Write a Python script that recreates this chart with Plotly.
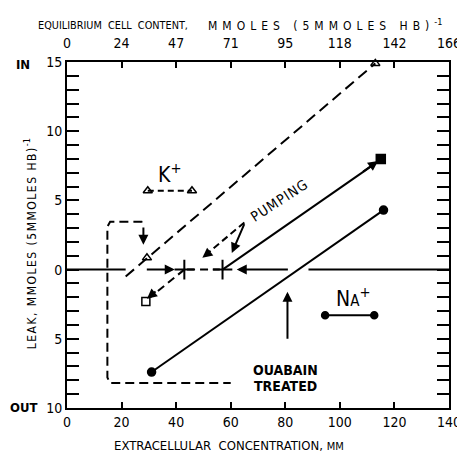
import plotly.graph_objects as go

FONT = "Liberation Sans Narrow, DejaVu Sans Condensed, Arial Narrow, sans-serif"

# ---------------- data ----------------
x_ticks = [0, 20, 40, 60, 80, 100, 120, 140]
x_ticklabels = ["0", "20", "40", "60", "80", "100", "120", "140"]
top_ticklabels = ["0", "24", "47", "71", "95", "118", "142", "166"]
y_ticks = [-10, -5, 0, 5, 10, 15]
y_ticklabels = ["10", "5", "0", "5", "10", "15"]

# K+ ouabain-treated leak line (dashed) and its triangles
k_leak_x = [21.5, 113.0]
k_leak_y = [-0.5, 14.9]
k_tri_x = [29.3, 113.0]
k_tri_y = [0.85, 14.9]

# Na+ ouabain-treated line (solid) with filled circles
na_ouab_x = [31.0, 116.0]
na_ouab_y = [-7.4, 4.3]

# Na+ pumping line (solid) from cross to filled square
na_pump_x = [57.0, 112.5]
na_pump_y = [0.0, 7.6]
na_sq_x = [115.0]
na_sq_y = [8.0]

# K+ pumping (dashed) from cross to open square
k_pump_x = [43.0, 30.5]
k_pump_y = [0.0, -2.0]
k_sq_x = [28.9]
k_sq_y = [-2.3]

# crosses on the zero line
cross_x = [43.0, 57.0]
cross_y = [0.0, 0.0]

# zero line segments
zero_left_x = [0.0, 21.5]
zero_right_x = [88.5, 140.0]
zero_y = [0.0, 0.0]
zero_mid_x = [44.0, 56.0]

# dashed bracket
bracket_x = [28.0, 28.0, 27.3, 15.8, 14.8, 14.8, 15.8, 60.0]
bracket_y = [2.4, 3.1, 3.45, 3.45, 3.1, -7.8, -8.2, -8.2]

# pumping dashed arrow shaft
pump_dash_x = [65.0, 51.0]
pump_dash_y = [3.4, 1.1]

# legends
k_leg_x = [29.6, 45.8]
k_leg_y = [5.7, 5.7]
na_leg_x = [94.6, 112.6]
na_leg_y = [-3.3, -3.3]

# ---------------- figure ----------------
fig = go.Figure()
blk = "black"

def line(x, y, dash="solid", width=2):
    fig.add_trace(go.Scatter(x=x, y=y, mode="lines", line=dict(color=blk, width=width, dash=dash),
                             hoverinfo="skip", showlegend=False, cliponaxis=False))

def marks(x, y, symbol, size, lw=1.5):
    fig.add_trace(go.Scatter(x=x, y=y, mode="markers",
                             marker=dict(symbol=symbol, size=size, color=blk, line=dict(color=blk, width=lw)),
                             hoverinfo="skip", showlegend=False, cliponaxis=False))

line(zero_left_x, zero_y)
line(zero_right_x, zero_y)
line(zero_mid_x, zero_y, dash="8px,5px")
line(k_leak_x, k_leak_y, dash="11px,6px")
line(na_ouab_x, na_ouab_y)
line(na_pump_x, na_pump_y)
line(k_pump_x, k_pump_y, dash="8px,5px")
line(bracket_x, bracket_y, dash="9px,5px")
line(pump_dash_x, pump_dash_y, dash="7px,4px")
line(k_leg_x, k_leg_y, dash="6px,4px")
line(na_leg_x, na_leg_y)

marks(k_tri_x, k_tri_y, "triangle-up-open", 8)
marks(k_leg_x, k_leg_y, "triangle-up-open", 8)
marks(na_ouab_x, na_ouab_y, "circle", 8)
marks(na_leg_x, na_leg_y, "circle", 7)
marks(na_sq_x, na_sq_y, "square", 9)
marks(k_sq_x, k_sq_y, "square-open", 8)
marks(cross_x, cross_y, "cross-thin-open", 14, lw=2)

# invisible trace for top axis
fig.add_trace(go.Scatter(x=[0, 140], y=[0, 0], xaxis="x2", mode="markers",
                         marker=dict(opacity=0), hoverinfo="skip", showlegend=False))

# arrows
def arrow(x, y, ax, ay, head=2, size=1.0):
    fig.add_annotation(x=x, y=y, ax=ax, ay=ay, xref="x", yref="y", axref="x", ayref="y",
                       showarrow=True, arrowhead=head, arrowsize=size, arrowwidth=2,
                       arrowcolor=blk, text="")

arrow(39.5, 0.0, 28.7, 0.0)          # right pointing on zero line
arrow(62.2, 0.0, 81.5, 0.0)          # left pointing on zero line
arrow(80.8, -1.6, 80.8, -5.1)        # ouabain arrow
arrow(114.0, 7.85, 108.0, 7.0)       # Na pump head
arrow(28.0, 1.8, 28.0, 2.6)          # bracket head
arrow(29.3, -2.1, 33.0, -1.5)        # K pump head
arrow(49.6, 0.85, 52.5, 1.3)         # pumping dashed head
arrow(60.4, 1.2, 65.2, 3.4)          # pumping solid arrow

# texts
def text(x, y, s, size, angle=0, xref="x", yref="y", xanchor="center", yanchor="middle"):
    fig.add_annotation(x=x, y=y, xref=xref, yref=yref, text=s, showarrow=False,
                       textangle=angle, xanchor=xanchor, yanchor=yanchor,
                       font=dict(family=FONT, size=size, color=blk))

SP = "<span style='font-size:12px;letter-spacing:5px'>"
SP2 = "<span style='font-size:12px;letter-spacing:1.5px'>"

text(78.0, 5.0, "<span style='letter-spacing:1px'>PUMPING</span>", 14, angle=-33)
text(80.0, -7.25, "<b>OUABAIN</b>", 14)
text(80.0, -8.4, "<b>TREATED</b>", 14)
text(37.7, 7.0, "K<sup>+</sup>", 21)
text(104.8, -2.0, "N<span style='font-size:15px'>A</span><sup>+</sup>", 21)

# top title in two parts
text((113.5 - 67) / 385, (408 - 26) / 346, "EQUILIBRIUM  CELL  CONTENT,", 10.8,
     xref="paper", yref="paper")
text((327 - 67) / 385, (408 - 25) / 346,
     SP + "MMOLES (5MMOLES HB)</span><sup>-1</sup>", 13, xref="paper", yref="paper")
text((230 - 67) / 385, (408 - 445) / 346,
     "EXTRACELLULAR  CONCENTRATION, <span style='font-size:11px'>MM</span>", 13,
     xref="paper", yref="paper")
text((30 - 67) / 385, (408 - 244) / 346,
     SP2 + "LEAK, MMOLES (5MMOLES HB)</span><sup>-1</sup>",
     13, angle=-90, xref="paper", yref="paper")
text((23 - 67) / 385, (408 - 64) / 346, "<b>IN</b>", 13, xref="paper", yref="paper")
text((23 - 67) / 385, (408 - 407) / 346, "<b>OUT</b>", 13, xref="paper", yref="paper")

# page body has an 8px margin: shift the figure margins to compensate
fig.update_layout(
    width=465, height=455,
    margin=dict(l=59, r=21, t=54, b=55),
    plot_bgcolor="white", paper_bgcolor="white",
    font=dict(family=FONT, size=14, color=blk),
    xaxis=dict(range=[0, 140], tickvals=x_ticks, ticktext=x_ticklabels,
               ticks="inside", ticklen=6, tickwidth=2, tickcolor=blk,
               showline=True, linewidth=2, linecolor=blk, mirror="allticks",
               showgrid=False, zeroline=False, tickfont=dict(size=14)),
    xaxis2=dict(range=[0, 140], overlaying="x", side="top", tickvals=x_ticks,
                ticktext=top_ticklabels, ticks="", showline=False, showgrid=False,
                zeroline=False, tickfont=dict(size=14), ticklabelstandoff=10),
    yaxis=dict(range=[-10, 15], tickvals=y_ticks, ticktext=y_ticklabels,
               ticks="inside", ticklen=12, tickwidth=2, tickcolor=blk,
               minor=dict(tickvals=list(range(-10, 16)), ticks="inside", ticklen=7,
                          tickwidth=1.5, tickcolor=blk),
               showline=True, linewidth=2, linecolor=blk, mirror="allticks",
               showgrid=False, zeroline=False, tickfont=dict(size=14)),
)

fig.write_html("out.html")
